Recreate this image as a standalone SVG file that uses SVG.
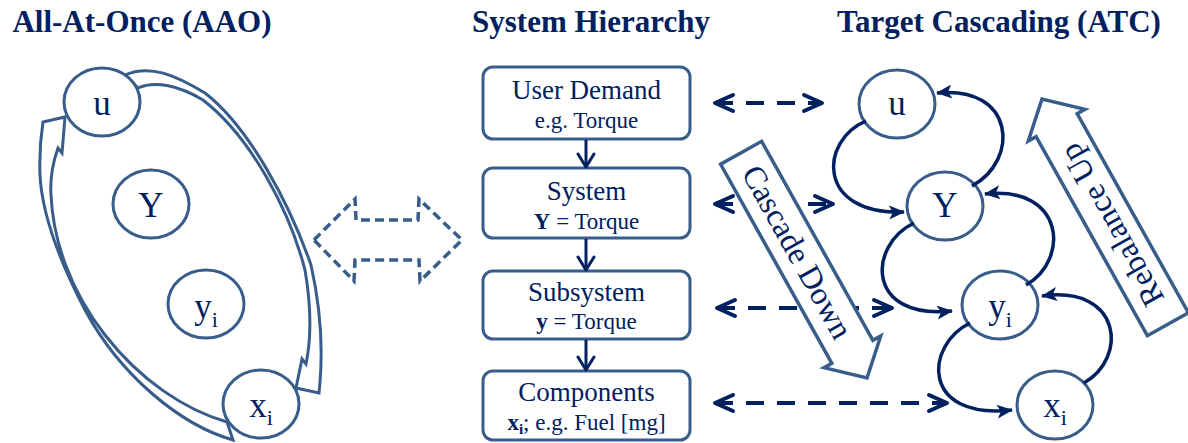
<svg xmlns="http://www.w3.org/2000/svg" width="1188" height="443" viewBox="0 0 1188 443">
<defs>
<style>
text { font-family: "Liberation Serif", "Times New Roman", serif; fill: #002060; }
.title { font-size: 31px; font-weight: bold; text-anchor: middle; }
.box { fill: #fff; stroke: #385D8A; stroke-width: 3; }
.bt { font-size: 27px; text-anchor: middle; }
.bs { font-size: 23px; text-anchor: middle; }
.node { fill: #fff; stroke: #385D8A; stroke-width: 3; }
.lbl { font-size: 35px; text-anchor: middle; }
.band { fill: #fff; stroke: #385D8A; stroke-width: 3; stroke-linejoin: miter; }
.dashed { fill: none; stroke: #002060; stroke-width: 4; stroke-dasharray: 18 13; marker-start: url(#chevL); marker-end: url(#chevL); }
.arc { fill: none; stroke: #002060; stroke-width: 3.5; marker-end: url(#head); }
.down { fill: none; stroke: #002060; stroke-width: 3; marker-end: url(#chevS); }
.block { fill: #fff; stroke: #385D8A; stroke-width: 3.5; }
.dblk { fill: #fff; stroke: #385D8A; stroke-width: 3.5; stroke-dasharray: 9 5; }
.rot { font-size: 32px; text-anchor: middle; }
</style>
<marker id="chevL" viewBox="0 0 26 22" refX="21" refY="11" markerWidth="26" markerHeight="22" markerUnits="userSpaceOnUse" orient="auto-start-reverse">
<path d="M3,3 L21,11 L3,19" fill="none" stroke="#002060" stroke-width="4" stroke-linejoin="round" stroke-linecap="round"/>
</marker>
<marker id="chevS" viewBox="0 0 20 20" refX="16" refY="10" markerWidth="20" markerHeight="20" markerUnits="userSpaceOnUse" orient="auto">
<path d="M3,2 L16,10 L3,18" fill="none" stroke="#002060" stroke-width="3" stroke-linejoin="round" stroke-linecap="round"/>
</marker>
<marker id="head" viewBox="0 0 16 14" refX="15" refY="7" markerWidth="16" markerHeight="14" markerUnits="userSpaceOnUse" orient="auto">
<path d="M0,0 L16,7 L0,14 L4,7 Z" fill="#002060"/>
</marker>
</defs>
<rect width="1188" height="443" fill="#fff"/>

<g id="titles">
<text class="title" x="142" y="32">All-At-Once (AAO)</text>
<text class="title" x="591" y="32">System Hierarchy</text>
<text class="title" x="999" y="32">Target Cascading (ATC)</text>
</g>

<g id="aao-loop">
<path class="band" d="M125,75 C150,64 175,75 205,93 C250,128 290,205 311,265 C320,305 323,345 320,382 L319,393 L296,388 L302,359 L306,364 C312,335 311,305 305,270 C290,212 252,138 203,100 C180,86 155,80 138,88 Z"/>
<path class="band" d="M233,440 C180,425 120,375 85,310 C60,262 42,215 40,175 C39,150 41,135 43,122 L65,117 L62,153 L58,148 C52,165 50,180 51,195 C53,240 70,290 105,335 C140,380 185,410 227,422 Z"/>
</g>
<g id="aao-u"><ellipse class="node" cx="102" cy="102" rx="38" ry="34"/><text class="lbl" x="102" y="115">u</text></g>
<g id="aao-Y"><ellipse class="node" cx="151" cy="204" rx="38" ry="34"/><text class="lbl" x="151" y="217">Y</text></g>
<g id="aao-yi"><ellipse class="node" cx="206" cy="304" rx="38" ry="34"/><text class="lbl" x="206" y="318">y<tspan font-size="22" dy="9">i</tspan></text></g>
<g id="aao-xi"><ellipse class="node" cx="261" cy="404" rx="38" ry="34"/><text class="lbl" x="261" y="417">x<tspan font-size="22" dy="8">i</tspan></text></g>

<g id="equivalence">
<polygon class="dblk" points="314,240 355,199 356,220 418,220 419,199 462,240 420,281 419,260 355,260 354,281"/>
</g>

<g id="box-user"><rect class="box" x="483" y="67" width="207" height="72" rx="10"/><text class="bt" x="586.5" y="99">User Demand</text><text class="bs" x="586.5" y="128">e.g. Torque</text></g>
<g id="box-system"><rect class="box" x="483" y="168" width="207" height="70" rx="10"/><text class="bt" x="586.5" y="200">System</text><text class="bs" x="586.5" y="229"><tspan font-weight="bold">Y</tspan> = Torque</text></g>
<g id="box-subsystem"><rect class="box" x="483" y="271" width="207" height="68" rx="10"/><text class="bt" x="586.5" y="301">Subsystem</text><text class="bs" x="586.5" y="329"><tspan font-weight="bold">y</tspan> = Torque</text></g>
<g id="box-components"><rect class="box" x="483" y="371" width="207" height="69" rx="10"/><text class="bt" x="586.5" y="401">Components</text><text class="bs" x="586.5" y="430"><tspan font-weight="bold">x</tspan><tspan font-weight="bold" font-size="15" dy="4">i</tspan><tspan dy="-4">; e.g. Fuel [mg]</tspan></text></g>

<g id="atc-u"><ellipse class="node" cx="897" cy="104" rx="38" ry="34"/><text class="lbl" x="897" y="115">u</text></g>
<g id="atc-Y"><ellipse class="node" cx="945" cy="206" rx="38" ry="34"/><text class="lbl" x="945" y="217">Y</text></g>
<g id="atc-yi"><ellipse class="node" cx="1000" cy="305" rx="38" ry="34"/><text class="lbl" x="1000" y="318">y<tspan font-size="22" dy="9">i</tspan></text></g>
<g id="atc-xi"><ellipse class="node" cx="1055" cy="405" rx="38" ry="34"/><text class="lbl" x="1055" y="417">x<tspan font-size="22" dy="8">i</tspan></text></g>

<g id="connectors">
<line class="down" x1="586" y1="140" x2="586" y2="167"/>
<line class="down" x1="586" y1="239" x2="586" y2="270"/>
<line class="down" x1="586" y1="340" x2="586" y2="370"/>
<path class="dashed" d="M715,103 L822,103"/>
<path class="dashed" d="M715,204 L833,204"/>
<path class="dashed" d="M717,308 L892,308"/>
<path class="dashed" d="M715,403 L947,403"/>
<path class="arc" d="M866,121 C820,140 815,215 904,212"/>
<path class="arc" d="M972,186 C1020,160 1015,85 937,93"/>
<path class="arc" d="M914,223 C868,245 865,320 952,311"/>
<path class="arc" d="M1026,285 C1070,260 1065,185 985,194"/>
<path class="arc" d="M970,323 C925,345 920,420 1012,410"/>
<path class="arc" d="M1084,383 C1128,358 1122,285 1042,296"/>
</g>

<g id="cascade-down" transform="translate(867,378) rotate(60.8)">
<polygon class="block" points="0,0 -30,-32.5 -30,-23.5 -258,-23.5 -258,23.5 -30,23.5 -30,32.5"/>
<text class="rot" x="-144" y="10">Cascade Down</text>
</g>
<g id="rebalance-up" transform="translate(1042,99) rotate(240.8)">
<polygon class="block" points="0,0 -30,-32.5 -30,-23.5 -258,-23.5 -258,23.5 -30,23.5 -30,32.5"/>
<text class="rot" x="-144" y="10">Rebalance Up</text>
</g>
</svg>
